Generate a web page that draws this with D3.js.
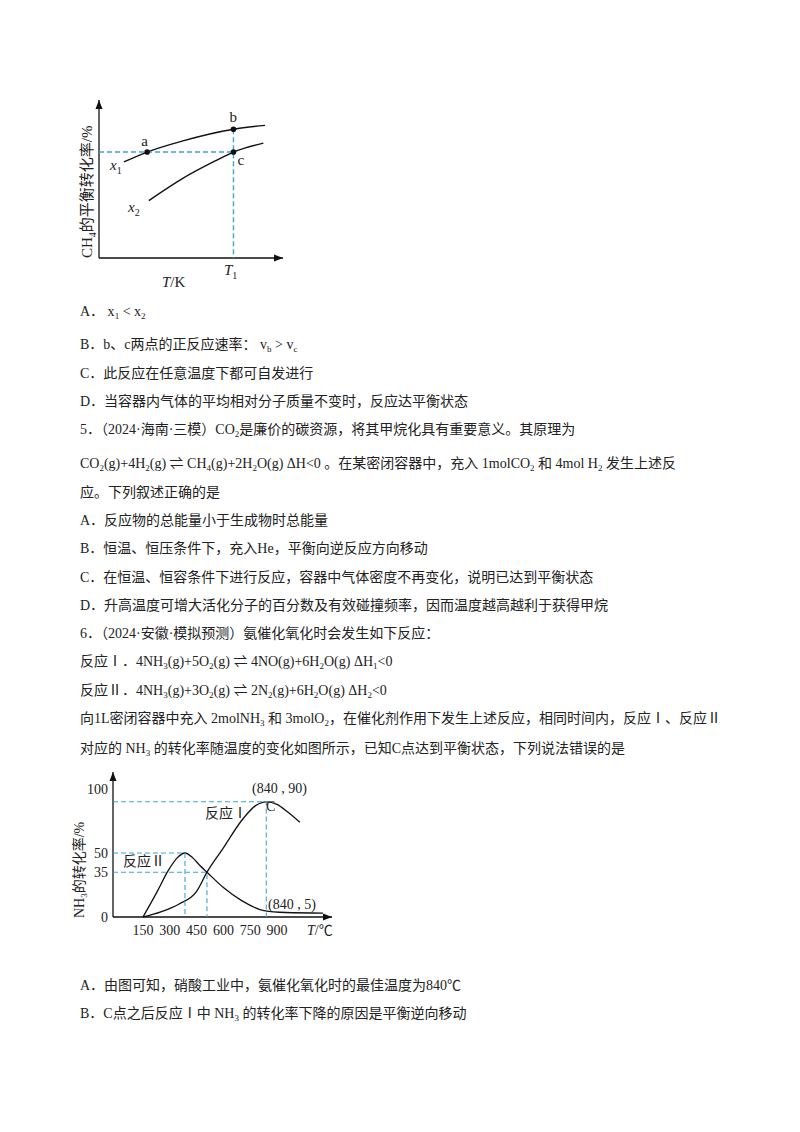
<!DOCTYPE html><html><head><meta charset="utf-8"><script src="https://cdn.jsdelivr.net/npm/d3@7"></script>
<style>body{margin:0;background:#fff}text{font-family:"Liberation Serif","Noto Sans CJK SC",serif;fill:#222}</style></head><body>
<svg id="s" width="800" height="1132"></svg>
<script>
// Chart 1 (abstract units)
const x1Curve=[[15,48.5],[29,53.5],[50,59],[81,65],[100,67]];
const x2Curve=[[30,29],[50,40],[70,49],[81,53.5],[99,58]];
const pts1=[{n:"a",x:29,y:53.5,dx:-6,dy:-6},{n:"b",x:81,y:65,dx:-4,dy:-7},{n:"c",x:81,y:53.5,dx:4,dy:13}];
// Chart 2
const ticksX=[150,300,450,600,750,900];
const ticksY=[0,35,50,100];
const reactI=[[150,0],[250,4],[350,10],[450,20],[508,35],[600,54],[700,75],[780,87],[840,90],[900,88],[960,82],[1028,74]];
const reactII=[[150,0],[230,20],[290,36],[340,46],[385,50],[430,46],[470,40],[508,35],[600,23],[700,13],[827,5],[950,3.5],[1157,3]];
const svg=d3.select("#s");
const blue="#3aa6d8";
function t(x,y,s,size=14,anchor="start"){return svg.append("text").attr("x",x).attr("y",y).attr("font-size",size).attr("text-anchor",anchor).text(s);}
function arrow(g,x1,y1,x2,y2){g.append("line").attr("x1",x1).attr("y1",y1).attr("x2",x2).attr("y2",y2).attr("stroke","#111").attr("stroke-width",1.3);
 const dx=x2-x1,dy=y2-y1,l=Math.hypot(dx,dy),ux=dx/l,uy=dy/l;
 g.append("path").attr("d",`M${x2},${y2}L${x2-ux*9-uy*3.5},${y2-uy*9+ux*3.5}L${x2-ux*9+uy*3.5},${y2-uy*9-ux*3.5}Z`).attr("fill","#111");}
// ---- chart 1
{const g=svg.append("g");
 const x=d3.scaleLinear().domain([0,100]).range([99,265]);
 const y=d3.scaleLinear().domain([0,100]).range([258,60]);
 arrow(g,99,258,99,100);arrow(g,99,258,283,258);
 const ln=d3.line().x(d=>x(d[0])).y(d=>y(d[1])).curve(d3.curveMonotoneX);
 [x1Curve,x2Curve].forEach(c=>g.append("path").attr("d",ln(c)).attr("fill","none").attr("stroke","#111").attr("stroke-width",1.4));
 g.append("path").attr("d",`M${x(0)},${y(53.5)}H${x(81)}M${x(81)},${y(65)}V258`).attr("stroke",blue).attr("stroke-dasharray","5,3").attr("fill","none").attr("stroke-width",1.4);
 pts1.forEach(p=>{g.append("circle").attr("cx",x(p.x)).attr("cy",y(p.y)).attr("r",2.8).attr("fill","#111");
  t(x(p.x)+p.dx,y(p.y)+p.dy,p.n,15);});
 svg.append("text").attr("x",110).attr("y",170).attr("font-size",15).attr("font-style","italic").html('x<tspan font-size="10" dy="4" font-style="normal">1</tspan>');
 svg.append("text").attr("x",128).attr("y",212).attr("font-size",15).attr("font-style","italic").html('x<tspan font-size="10" dy="4" font-style="normal">2</tspan>');
 svg.append("text").attr("x",224).attr("y",275).attr("font-size",15).html('<tspan font-style="italic">T</tspan><tspan font-size="10" dy="4">1</tspan>');
 svg.append("text").attr("x",162).attr("y",287).attr("font-size",15).html('<tspan font-style="italic">T</tspan>/K');
 svg.append("text").attr("transform","translate(92,258) rotate(-90)").attr("font-size",15).html('CH<tspan font-size="10" dy="4">4</tspan><tspan dy="-4">的平衡转化率/%</tspan>');
}
// ---- chart 2
{const g=svg.append("g");
 const x=d3.scaleLinear().domain([150,900]).range([143,277]);
 const y=d3.scaleLinear().domain([0,100]).range([917,789]);
 arrow(g,113,917,113,772);arrow(g,113,917,332,917);
 const ln=d3.line().x(d=>x(d[0])).y(d=>y(d[1])).curve(d3.curveMonotoneX);
 [reactI,reactII].forEach(c=>g.append("path").attr("d",ln(c)).attr("fill","none").attr("stroke","#111").attr("stroke-width",1.3));
 const dash=(p)=>g.append("path").attr("d",p).attr("stroke",blue).attr("stroke-dasharray","5,3").attr("fill","none").attr("stroke-width",1.1);
 dash(`M113,${y(90)}H${x(840)}V917`);dash(`M113,${y(50)}H${x(385)}V917`);dash(`M113,${y(35)}H${x(508)}V917`);
 ticksY.forEach(v=>t(108,y(v)+5,v,14,"end"));
 ticksX.forEach(v=>t(x(v),935,v,14,"middle"));
 t(252,793,"(840 , 90)",14);t(266,811,"C",14);t(268,909,"(840 , 5)",14);
 t(205,818,"反应Ⅰ",14);t(123,866,"反应Ⅱ",14);
 svg.append("text").attr("x",307).attr("y",935).attr("font-size",14).html('<tspan font-style="italic">T</tspan>/℃');
 svg.append("text").attr("transform","translate(84,918) rotate(-90)").attr("font-size",14).html('NH<tspan font-size="9" dy="3">3</tspan><tspan dy="-3">的转化率/%</tspan>');
}
// ---- text
const lines=[
[80,316,'A．  x<tspan font-size="9" dy="3">1</tspan><tspan dy="-3"> &lt; x</tspan><tspan font-size="9" dy="3">2</tspan>'],
[80,349,'B．b、c两点的正反应速率：  v<tspan font-size="9" dy="3">b</tspan><tspan dy="-3"> &gt; v</tspan><tspan font-size="9" dy="3">c</tspan>'],
[80,378,'C．此反应在任意温度下都可自发进行'],
[80,406,'D．当容器内气体的平均相对分子质量不变时，反应达平衡状态'],
[80,434,'5．（2024·海南·三模）CO<tspan font-size="9" dy="3">2</tspan><tspan dy="-3">是廉价的碳资源，将其甲烷化具有重要意义。其原理为</tspan>'],
[80,468,'CO<tspan font-size="9" dy="3">2</tspan><tspan dy="-3">(g)+4H</tspan><tspan font-size="9" dy="3">2</tspan><tspan dy="-3">(g) ⇌ CH</tspan><tspan font-size="9" dy="3">4</tspan><tspan dy="-3">(g)+2H</tspan><tspan font-size="9" dy="3">2</tspan><tspan dy="-3">O(g)  ΔH&lt;0 。在某密闭容器中，充入 1molCO</tspan><tspan font-size="9" dy="3">2</tspan><tspan dy="-3"> 和 4mol H</tspan><tspan font-size="9" dy="3">2</tspan><tspan dy="-3"> 发生上述反</tspan>'],
[80,497,'应。下列叙述正确的是'],
[80,525,'A．反应物的总能量小于生成物时总能量'],
[80,553,'B．恒温、恒压条件下，充入He，平衡向逆反应方向移动'],
[80,582,'C．在恒温、恒容条件下进行反应，容器中气体密度不再变化，说明已达到平衡状态'],
[80,610,'D．升高温度可增大活化分子的百分数及有效碰撞频率，因而温度越高越利于获得甲烷'],
[80,638,'6．（2024·安徽·模拟预测）氨催化氧化时会发生如下反应：'],
[80,666,'反应Ⅰ．4NH<tspan font-size="9" dy="3">3</tspan><tspan dy="-3">(g)+5O</tspan><tspan font-size="9" dy="3">2</tspan><tspan dy="-3">(g) ⇌ 4NO(g)+6H</tspan><tspan font-size="9" dy="3">2</tspan><tspan dy="-3">O(g)    ΔH</tspan><tspan font-size="9" dy="3">1</tspan><tspan dy="-3">&lt;0</tspan>'],
[80,695,'反应Ⅱ．4NH<tspan font-size="9" dy="3">3</tspan><tspan dy="-3">(g)+3O</tspan><tspan font-size="9" dy="3">2</tspan><tspan dy="-3">(g) ⇌ 2N</tspan><tspan font-size="9" dy="3">2</tspan><tspan dy="-3">(g)+6H</tspan><tspan font-size="9" dy="3">2</tspan><tspan dy="-3">O(g)    ΔH</tspan><tspan font-size="9" dy="3">2</tspan><tspan dy="-3">&lt;0</tspan>'],
[80,723,'向1L密闭容器中充入 2molNH<tspan font-size="9" dy="3">3</tspan><tspan dy="-3"> 和 3molO</tspan><tspan font-size="9" dy="3">2</tspan><tspan dy="-3">，在催化剂作用下发生上述反应，相同时间内，反应Ⅰ、反应Ⅱ</tspan>'],
[80,753,'对应的 NH<tspan font-size="9" dy="3">3</tspan><tspan dy="-3"> 的转化率随温度的变化如图所示，已知C点达到平衡状态，下列说法错误的是</tspan>'],
[80,990,'A．由图可知，硝酸工业中，氨催化氧化时的最佳温度为840℃'],
[80,1018,'B．C点之后反应Ⅰ中 NH<tspan font-size="9" dy="3">3</tspan><tspan dy="-3"> 的转化率下降的原因是平衡逆向移动</tspan>']];
lines.forEach(l=>svg.append("text").attr("x",l[0]).attr("y",l[1]).attr("font-size",14).html(l[2]));
</script></body></html>
